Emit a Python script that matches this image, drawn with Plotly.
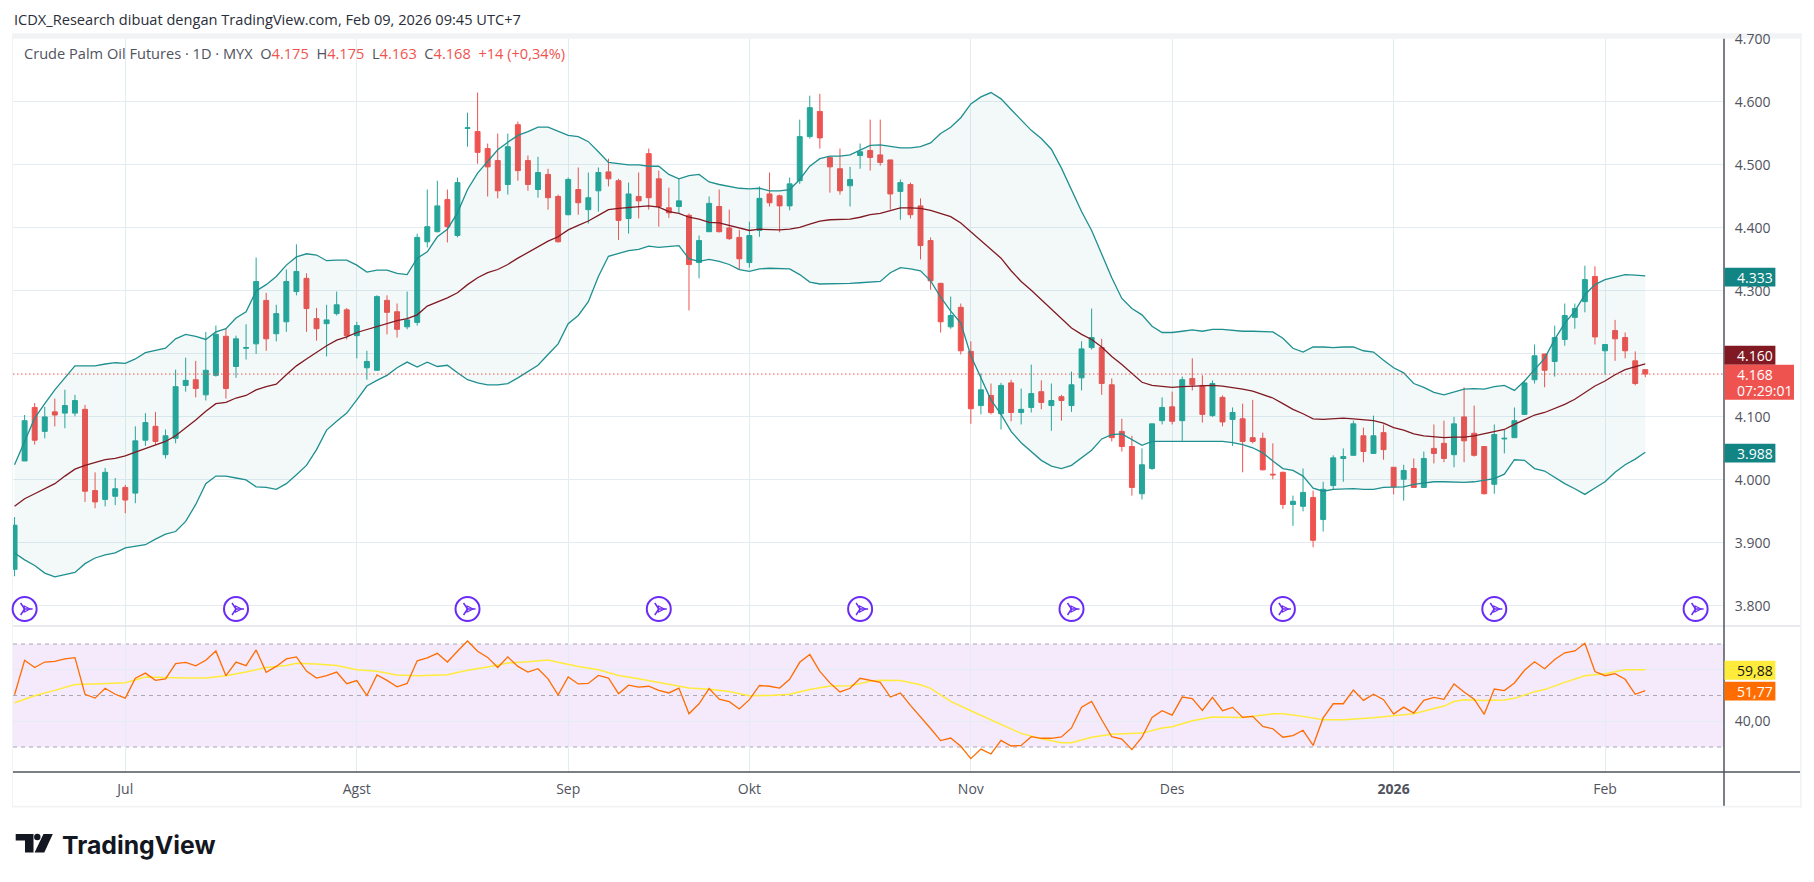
"""Crude Palm Oil Futures daily chart with Bollinger bands and RSI."""
import plotly.graph_objects as go
from plotly.subplots import make_subplots

WIDTH, HEIGHT = 1814, 882
PAGE_MARGIN = 8  # the page body keeps its default margin around the plot
LEFT, RIGHT, TOP, BOTTOM = 13, 1724.3, 39.3, 772.3
FONT = "Open Sans"
UP, DOWN = "#26a69a", "#ef5350"
TEAL, MAROON = "#138484", "#801922"
GRID = "#e3ecf1"
TEXT = "#50535e"
ICON = "#6a2cf5"

# one entry per trading day, left to right
opens = [
    3858, 4030, 4115, 4077, 4108, 4106, 4106, 4112, 3983, 3969,
    3974, 3988, 3979, 4063, 4085, 4040, 4066, 4150, 4159, 4135,
    4166, 4228, 4180, 4209, 4216, 4285, 4232, 4251, 4299, 4320,
    4256, 4248, 4264, 4270, 4229, 4178, 4174, 4285, 4267, 4243,
    4250, 4378, 4394, 4445, 4388, 4558, 4553, 4526, 4507, 4469,
    4564, 4507, 4461, 4485, 4450, 4421, 4461, 4429, 4459, 4489,
    4475, 4415, 4450, 4518, 4478, 4432, 4434, 4420, 4345, 4394,
    4434, 4400, 4385, 4345, 4396, 4454, 4451, 4435, 4475, 4545,
    4585, 4512, 4494, 4467, 4515, 4523, 4516, 4508, 4458, 4469,
    4435, 4380, 4312, 4243, 4274, 4204, 4118, 4134, 4105, 4154,
    4107, 4115, 4140, 4118, 4132, 4118, 4162, 4210, 4210, 4151,
    4077, 4053, 3978, 4018, 4094, 4116, 4094, 4161, 4150, 4102,
    4131, 4096, 4097, 4067, 4066, 4009, 4012, 3961, 3958, 3972,
    3937, 3991, 4034, 4039, 4070, 4042, 4075, 4020, 4001, 4018,
    3988, 4050, 4058, 4040, 4100, 4074, 4053, 3993, 4065, 4067,
    4104, 4159, 4200, 4188, 4223, 4258, 4283, 4323, 4205, 4237,
    4226, 4189, 4175,
]
highs = [
    3941, 4103, 4122, 4116, 4129, 4143, 4135, 4119, 4012, 4019,
    4003, 3992, 4085, 4106, 4108, 4080, 4175, 4194, 4189, 4235,
    4245, 4240, 4229, 4247, 4353, 4297, 4278, 4334, 4374, 4328,
    4273, 4278, 4299, 4273, 4251, 4205, 4293, 4293, 4280, 4299,
    4391, 4461, 4475, 4461, 4480, 4583, 4615, 4534, 4550, 4550,
    4569, 4515, 4513, 4494, 4453, 4480, 4496, 4488, 4496, 4510,
    4478, 4472, 4488, 4526, 4491, 4464, 4478, 4423, 4388, 4450,
    4461, 4429, 4397, 4410, 4466, 4488, 4453, 4480, 4572, 4610,
    4613, 4512, 4526, 4497, 4534, 4572, 4572, 4508, 4477, 4472,
    4447, 4385, 4313, 4291, 4280, 4220, 4169, 4153, 4154, 4159,
    4145, 4183, 4158, 4153, 4135, 4172, 4220, 4272, 4224, 4161,
    4097, 4070, 4050, 4089, 4131, 4140, 4164, 4193, 4166, 4158,
    4134, 4115, 4121, 4127, 4075, 4058, 4013, 3975, 4018, 3983,
    3997, 4039, 4050, 4094, 4083, 4102, 4088, 4020, 4024, 4034,
    4045, 4088, 4094, 4100, 4147, 4118, 4053, 4088, 4080, 4115,
    4158, 4215, 4200, 4245, 4280, 4280, 4340, 4339, 4215, 4254,
    4234, 4204, 4175,
]
lows = [
    3847, 4030, 4056, 4066, 4085, 4082, 4101, 3965, 3955, 3958,
    3960, 3947, 3963, 4054, 4056, 4034, 4058, 4140, 4131, 4126,
    4164, 4129, 4162, 4191, 4200, 4205, 4220, 4235, 4293, 4235,
    4221, 4196, 4261, 4223, 4193, 4159, 4174, 4231, 4226, 4239,
    4245, 4369, 4393, 4377, 4385, 4529, 4502, 4450, 4447, 4453,
    4475, 4459, 4448, 4429, 4377, 4420, 4421, 4407, 4426, 4466,
    4381, 4391, 4415, 4429, 4402, 4416, 4424, 4269, 4320, 4394,
    4393, 4381, 4334, 4337, 4386, 4434, 4393, 4428, 4470, 4542,
    4526, 4456, 4453, 4434, 4494, 4491, 4499, 4429, 4413, 4415,
    4350, 4302, 4234, 4240, 4199, 4089, 4104, 4104, 4080, 4093,
    4088, 4107, 4112, 4078, 4094, 4108, 4142, 4207, 4135, 4061,
    4045, 3975, 3969, 4016, 4088, 4088, 4062, 4142, 4091, 4100,
    4085, 4054, 4012, 4058, 4015, 4001, 3954, 3927, 3950, 3893,
    3918, 3985, 3997, 4039, 4028, 4042, 4032, 3977, 3967, 3988,
    3988, 4026, 4028, 4020, 4028, 4037, 3977, 3978, 4042, 4067,
    4104, 4153, 4147, 4164, 4213, 4240, 4266, 4215, 4167, 4189,
    4193, 4150, 4163,
]
closes = [
    3928, 4094, 4063, 4100, 4103, 4118, 4126, 3982, 3965, 4012,
    3986, 3968, 4062, 4091, 4061, 4070, 4148, 4158, 4145, 4174,
    4231, 4145, 4224, 4210, 4315, 4224, 4264, 4315, 4331, 4272,
    4240, 4254, 4278, 4229, 4245, 4188, 4291, 4266, 4239, 4254,
    4385, 4402, 4435, 4402, 4472, 4559, 4520, 4497, 4459, 4529,
    4491, 4469, 4488, 4448, 4378, 4477, 4440, 4448, 4488, 4478,
    4412, 4454, 4443, 4448, 4434, 4424, 4443, 4342, 4380, 4439,
    4394, 4383, 4351, 4388, 4447, 4440, 4435, 4470, 4545, 4591,
    4543, 4497, 4459, 4477, 4521, 4512, 4504, 4454, 4472, 4421,
    4372, 4316, 4251, 4261, 4205, 4113, 4143, 4107, 4150, 4107,
    4112, 4137, 4123, 4126, 4126, 4151, 4208, 4226, 4153, 4067,
    4053, 3988, 4024, 4089, 4115, 4093, 4159, 4151, 4104, 4153,
    4092, 4107, 4061, 4061, 4016, 4008, 3961, 3966, 3980, 3904,
    3985, 4035, 4037, 4089, 4045, 4070, 4048, 3989, 4015, 3988,
    4034, 4042, 4034, 4089, 4062, 4039, 3978, 4072, 4066, 4094,
    4154, 4197, 4174, 4226, 4261, 4272, 4318, 4227, 4215, 4224,
    4205, 4153, 4168,
]
bb_upper = [
    4024, 4062, 4098, 4121, 4143, 4162, 4181, 4181, 4181, 4184,
    4186, 4185, 4192, 4202, 4206, 4209, 4224, 4231, 4228, 4223,
    4235, 4240, 4257, 4267, 4300, 4310, 4323, 4341, 4354, 4359,
    4357, 4348, 4349, 4349, 4341, 4330, 4333, 4333, 4328, 4326,
    4352, 4362, 4386, 4398, 4424, 4461, 4487, 4506, 4524, 4536,
    4547, 4553, 4560, 4560, 4554, 4547, 4545, 4537, 4521, 4504,
    4502, 4500, 4500, 4498, 4498, 4485, 4478, 4483, 4485, 4473,
    4469, 4466, 4463, 4462, 4463, 4459, 4459, 4461, 4477, 4498,
    4510, 4514, 4514, 4516, 4524, 4531, 4532, 4529, 4527, 4527,
    4529, 4535, 4550, 4560, 4575, 4597, 4608, 4615, 4605, 4588,
    4571, 4555, 4542, 4525, 4495, 4461, 4426, 4396, 4358, 4321,
    4288, 4272, 4262, 4244, 4234, 4234, 4236, 4238, 4236, 4239,
    4239, 4237, 4236, 4236, 4236, 4235, 4225, 4209, 4203, 4211,
    4211, 4210, 4211, 4211, 4205, 4203, 4190, 4178, 4170, 4153,
    4147, 4139, 4135, 4140, 4144, 4145, 4144, 4148, 4150, 4142,
    4157, 4175, 4193, 4223, 4249, 4268, 4294, 4310, 4318, 4322,
    4326, 4325, 4324,
]
bb_mid = [
    3958, 3970, 3978, 3986, 3994, 4006, 4017, 4023, 4027, 4032,
    4034, 4038, 4044, 4050, 4056, 4061, 4070, 4082, 4095, 4109,
    4121, 4123, 4130, 4134, 4143, 4148, 4152, 4167, 4181, 4192,
    4203, 4213, 4222, 4227, 4234, 4239, 4244, 4248, 4253, 4256,
    4262, 4276, 4282, 4289, 4297, 4310, 4321, 4329, 4334, 4342,
    4352, 4361, 4370, 4379, 4386, 4397, 4404, 4411, 4420, 4429,
    4431, 4432, 4433, 4435, 4433, 4426, 4423, 4417, 4414, 4409,
    4408, 4404, 4399, 4396, 4398, 4397, 4397, 4398, 4401, 4406,
    4411, 4413, 4413, 4414, 4417, 4421, 4423, 4428, 4432, 4432,
    4431, 4428, 4423, 4418, 4408, 4394, 4381, 4367, 4352, 4332,
    4315, 4301, 4286, 4272, 4256, 4241, 4231, 4223, 4211, 4196,
    4183, 4169, 4155, 4150, 4148, 4147, 4148, 4149, 4149, 4150,
    4149, 4147, 4144, 4141, 4135, 4130, 4121, 4112, 4105, 4097,
    4096, 4097, 4098, 4097, 4095, 4094, 4090, 4083, 4079, 4073,
    4070, 4068, 4067, 4068, 4068, 4070, 4073, 4077, 4080, 4088,
    4096, 4103, 4107, 4113, 4120, 4128, 4138, 4149, 4157, 4167,
    4175, 4179, 4184,
]
bb_lower = [
    3884, 3873, 3864, 3852, 3846, 3849, 3853, 3867, 3876, 3881,
    3884, 3892, 3895, 3897, 3906, 3914, 3918, 3934, 3961, 3994,
    4006, 4006, 4003, 4000, 3989, 3988, 3985, 3994, 4008, 4023,
    4048, 4079, 4093, 4106, 4127, 4149, 4158, 4166, 4178, 4187,
    4179, 4187, 4180, 4182, 4170, 4159, 4154, 4151, 4151, 4153,
    4162, 4172, 4182, 4199, 4216, 4248, 4261, 4283, 4323, 4355,
    4359, 4364, 4366, 4371, 4369, 4371, 4372, 4351, 4347, 4350,
    4347, 4342, 4334, 4331, 4335, 4336, 4336, 4335, 4326, 4314,
    4311, 4311, 4312, 4312, 4313, 4314, 4315, 4329, 4337, 4335,
    4332, 4316, 4290, 4268, 4249, 4197, 4162, 4127, 4104, 4077,
    4059, 4045, 4031, 4022, 4018, 4023, 4035, 4047, 4065, 4072,
    4073, 4064, 4055, 4061, 4061, 4060, 4060, 4061, 4060, 4061,
    4061, 4059, 4056, 4051, 4043, 4030, 4018, 4015, 4006, 3987,
    3982, 3985, 3986, 3986, 3985, 3985, 3988, 3989, 3989, 3993,
    3995, 3997, 3997, 3996, 3996, 3997, 3999, 4002, 4009, 4032,
    4031, 4018, 4014, 4004, 3994, 3986, 3977, 3987, 3997, 4012,
    4024, 4033, 4044,
]
rsi = [
    50.3, 63.7, 60.9, 63.0, 63.3, 64.2, 64.7, 50.5, 49.0, 52.8,
    50.5, 49.0, 56.7, 58.7, 55.9, 56.5, 62.4, 62.9, 61.5, 63.7,
    67.3, 57.7, 63.0, 61.6, 67.7, 59.0, 61.3, 64.2, 65.0, 59.5,
    56.8, 57.7, 59.1, 54.6, 55.8, 50.0, 58.0, 55.9, 53.4, 54.7,
    63.5, 64.6, 66.4, 63.0, 67.2, 71.2, 67.2, 64.8, 60.9, 65.0,
    61.3, 59.1, 60.4, 56.5, 50.2, 57.2, 54.5, 54.7, 57.8, 56.8,
    50.7, 54.0, 53.3, 53.6, 52.0, 51.0, 52.9, 42.9, 46.8, 52.7,
    48.6, 47.6, 44.8, 48.4, 53.9, 53.6, 52.9, 56.3, 62.9, 65.9,
    59.4, 54.9, 51.4, 52.8, 56.7, 55.9, 55.1, 49.4, 51.0, 46.2,
    41.9, 37.2, 32.5, 33.5, 30.3, 25.5, 29.2, 27.3, 32.6, 30.4,
    30.6, 34.0, 33.4, 33.4, 33.9, 37.4, 45.5, 47.7, 40.6, 34.0,
    33.1, 29.0, 33.8, 41.5, 44.1, 42.4, 49.4, 48.8, 44.2, 49.3,
    44.1, 45.4, 41.5, 41.9, 38.0, 37.1, 33.8, 34.4, 36.5, 30.6,
    41.3, 46.8, 46.8, 52.1, 48.1, 50.5, 48.4, 42.8, 45.5, 43.2,
    48.1, 49.3, 48.5, 54.5, 51.4, 48.6, 42.7, 52.5, 51.9, 54.9,
    59.8, 63.1, 60.4, 64.0, 66.6, 67.3, 70.3, 59.3, 57.7, 58.5,
    56.3, 50.5, 51.9,
]
# the RSI average is smooth, so it is read only at the days where it bends
rsi_ma_days = [
    0, 2, 4, 6, 8, 10, 11, 13, 15, 17, 19, 21, 23, 25, 27, 28, 30, 32, 34, 36,
    38, 40, 43, 45, 47, 49, 51, 53, 54, 56, 58, 60, 62, 64, 66, 67, 69, 71, 73,
    75, 77, 79, 81, 83, 85, 86, 88, 90, 91, 93, 95, 98, 100, 102, 104, 105, 107,
    109, 111, 112, 114, 115, 117, 119, 122, 125, 126, 128, 130, 132, 135, 137,
    139, 142, 143, 144, 146, 148, 149, 151, 152, 154, 156, 158, 160, 162,
]
rsi_ma = [
    47.2, 49.9, 52.0, 54.3, 54.5, 54.7, 55.0, 57.2, 56.9, 56.8, 56.8, 57.7, 59.1,
    60.9, 61.7, 62.5, 62.2, 61.7, 60.0, 59.4, 58.0, 57.7, 58.1, 59.8, 61.1, 62.6,
    63.1, 63.8, 62.9, 61.3, 60.0, 57.8, 56.5, 55.1, 53.8, 52.9, 52.4, 51.6, 49.9,
    50.0, 50.5, 52.3, 53.7, 53.8, 55.5, 55.9, 55.8, 54.2, 52.8, 47.7, 44.1, 38.7,
    35.3, 33.2, 31.7, 31.7, 33.8, 35.0, 35.4, 35.4, 37.4, 37.9, 40.2, 41.7, 41.5,
    42.9, 42.9, 41.9, 40.6, 40.6, 41.4, 42.2, 42.9, 45.9, 47.7, 48.4, 48.1, 48.3,
    48.9, 51.5, 52.3, 55.1, 57.7, 58.5, 60.0, 60.0,
]
days = list(range(len(closes)))
month_days = [11, 34, 55, 73, 95, 115, 137, 158]
month_labels = ["Jul", "Agst", "Sep", "Okt", "Nov", "Des", "<b>2026</b>", "Feb"]
price_ticks = [3800, 3900, 4000, 4100, 4200, 4300, 4400, 4500, 4600, 4700]
# 4.200 sits behind the 4.160 value label in the reference
price_labels = ["3.800", "3.900", "4.000", "4.100", "", "4.300", "4.400", "4.500", "4.600", "4.700"]
expiry_days = [1, 22, 45, 64, 84, 105, 126, 147, 167]
expiry_level = 3795


def px(x):
    # paper coordinates run over the plot area, not the whole page
    return (x - LEFT) / (RIGHT - LEFT)


def py(y):
    return (BOTTOM - y) / (BOTTOM - TOP)


fig = make_subplots(rows=2, cols=1, shared_xaxes=True, vertical_spacing=0, row_heights=[587, 146])

# ── Bollinger bands ──────────────────────────────────────────────────────
fig.add_trace(go.Scatter(x=days, y=bb_upper, mode="lines", line=dict(color="#1f8f8f", width=1.3)), row=1, col=1)
fig.add_trace(
    go.Scatter(x=days, y=bb_lower, mode="lines", line=dict(color="#1f8f8f", width=1.3),
               fill="tonexty", fillcolor="rgba(38,140,140,0.055)"),
    row=1, col=1,
)
fig.add_trace(go.Scatter(x=days, y=bb_mid, mode="lines", line=dict(color=MAROON, width=1.3)), row=1, col=1)

# ── Candles ──────────────────────────────────────────────────────────────
fig.add_trace(
    go.Candlestick(
        x=days, open=opens, high=highs, low=lows, close=closes, whiskerwidth=0,
        increasing=dict(line=dict(color=UP, width=1), fillcolor=UP),
        decreasing=dict(line=dict(color=DOWN, width=1), fillcolor=DOWN),
    ),
    row=1, col=1,
)

# ── Contract roll icons ──────────────────────────────────────────────────
levels = [expiry_level] * len(expiry_days)
fig.add_trace(
    go.Scatter(x=expiry_days, y=levels, mode="markers", cliponaxis=False,
               marker=dict(symbol="circle", size=24, color="white", line=dict(color=ICON, width=2))),
    row=1, col=1,
)
fig.add_trace(
    go.Scatter(x=expiry_days, y=levels, mode="markers", cliponaxis=False,
               marker=dict(symbol="y-right-open", size=10, color=ICON, line=dict(color=ICON, width=1.5))),
    row=1, col=1,
)
# arrow markers have their tip at the centre, so the head sits half a day ahead
fig.add_trace(
    go.Scatter(x=[d + 0.55 for d in expiry_days], y=levels, mode="markers", cliponaxis=False,
               marker=dict(symbol="arrow-right-open", size=6, color=ICON, line=dict(color=ICON, width=1.2))),
    row=1, col=1,
)

# ── RSI ──────────────────────────────────────────────────────────────────
fig.add_trace(go.Scatter(x=rsi_ma_days, y=rsi_ma, mode="lines", line=dict(color="#ffeb3b", width=1.5)), row=2, col=1)
fig.add_trace(go.Scatter(x=days, y=rsi, mode="lines", line=dict(color="#ff6d00", width=1.3)), row=2, col=1)
fig.add_hrect(y0=30, y1=70, fillcolor="rgba(155,39,230,0.1)", line_width=0, layer="below", row=2, col=1)
for level in [30, 50, 70]:
    fig.add_hline(y=level, line=dict(color="#a9a8b0", width=1, dash="4px,4px"), layer="below", row=2, col=1)

# last price line
fig.add_hline(y=closes[-1], line=dict(color=DOWN, width=1, dash="1.5px,2.5px"), row=1, col=1)

# ── Axes ─────────────────────────────────────────────────────────────────
axis_font = dict(family=FONT, size=14, color=TEXT)
fig.update_xaxes(range=[-0.154, 169.82], tickvals=month_days, ticktext=month_labels, showgrid=True, gridcolor=GRID,
                 gridwidth=1, zeroline=False, showline=False, rangeslider_visible=False, tickfont=axis_font,
                 ticks="", ticklabelstandoff=7)
fig.update_yaxes(side="right", showgrid=True, gridcolor=GRID, gridwidth=1, zeroline=False, showline=False,
                 tickfont=axis_font, ticks="outside", ticklen=7, tickcolor="rgba(0,0,0,0)")
fig.update_yaxes(range=[3768, 4700], tickvals=price_ticks, ticktext=price_labels, row=1, col=1)
fig.update_yaxes(range=[20.3, 77], tickvals=[40, 60], ticktext=["40,00", ""], row=2, col=1)

# ── Frame, separators, value labels ──────────────────────────────────────
shapes = []


def box(x0, y0, x1, y1, color, layer="above"):
    shapes.append(dict(type="rect", xref="paper", yref="paper", x0=px(x0), x1=px(x1), y0=py(y0), y1=py(y1),
                       fillcolor=color, line_width=0, layer=layer))


def rule(x0, y0, x1, y1, color, width=1):
    shapes.append(dict(type="line", xref="paper", yref="paper", x0=px(x0), x1=px(x1), y0=py(y0), y1=py(y1),
                       line=dict(color=color, width=width)))


frame = "#f2f3f5"
box(12, 33.5, 1802, 39, frame, layer="below")
box(12, 33.5, 13, 807.7, frame, layer="below")
box(1800.3, 33.5, 1802, 807.7, frame, layer="below")
box(12, 806, 1802, 807.7, frame, layer="below")
rule(13, 626.3, 1800.3, 626.3, "#e0e3eb", 1.5)
rule(13, 772.3, 1800.3, 772.3, TEXT, 1.5)
rule(1724.3, 39, 1724.3, 806, TEXT, 1.5)

# value labels on the scales: text, top, bottom, right edge, fill, ink
labels = [
    ("4.333", 268, 286.7, 1775.7, TEAL, "white"),
    ("4.160", 346, 365, 1775.7, MAROON, "white"),
    ("3.988", 444, 462.7, 1775.7, TEAL, "white"),
    ("59,88", 661, 680, 1775.7, "#ffeb3b", "#131722"),
    ("51,77", 682, 700.7, 1775.7, "#ff6d00", "white"),
]
notes = []


def note(text, x, y, size=14, color=TEXT, family=FONT, anchor="left"):
    notes.append(dict(text=text, xref="paper", yref="paper", x=px(x), y=py(y), xanchor=anchor, yanchor="middle",
                      showarrow=False, font=dict(family=family, size=size, color=color)))


for text, top, bottom, edge, fill, ink in labels:
    box(1724.8, top, edge, bottom, fill)
    note(text, 1735, (top + bottom) / 2, color=ink)
box(1724.8, 365, 1794.3, 400, DOWN)
note("4.168", 1735, 375, color="white")
note("07:29:01", 1735, 391, color="white")

note("ICDX_Research dibuat dengan TradingView.com, Feb 09, 2026 09:45 UTC+7", 12, 19.7, size=14.6, color="#2a2e39")
red = '<span style="color:%s">%%s</span>' % DOWN
note("Crude Palm Oil Futures · 1D · MYX\u00a0\u00a0O" + red % "4.175" + "\u00a0\u00a0H" + red % "4.175"
     + "\u00a0\u00a0L" + red % "4.163" + "\u00a0\u00a0C" + red % "4.168" + "\u00a0\u00a0" + red % "+14 (+0,34%)",
     22, 53.7, size=14.6)

# ── TradingView logo ─────────────────────────────────────────────────────
logo = "#131722"


def poly(points):
    path = "M" + " L".join(f"{px(x):.5f},{py(y):.5f}" for x, y in points) + " Z"
    shapes.append(dict(type="path", xref="paper", yref="paper", path=path, fillcolor=logo, line_width=0))


poly([(15.7, 834.3), (33.5, 834.3), (33.5, 852.7), (25, 852.7), (25, 840.9), (15.7, 840.9)])
poly([(43.5, 834.3), (52.8, 834.3), (44.3, 852.7), (34.6, 852.7)])
shapes.append(dict(type="circle", xref="paper", yref="paper", x0=px(34.1), x1=px(40.5), y0=py(840.5), y1=py(834.1),
                   fillcolor=logo, line_width=0))
note("<b>TradingView</b>", 60, 845.5, size=24.8, color=logo, family="Inter")

fig_w, fig_h = WIDTH - 2 * PAGE_MARGIN, HEIGHT - 2 * PAGE_MARGIN
fig.update_layout(
    width=fig_w, height=fig_h, showlegend=False, paper_bgcolor="white", plot_bgcolor="white",
    margin=dict(l=LEFT - PAGE_MARGIN, r=fig_w - (RIGHT - PAGE_MARGIN), t=TOP - PAGE_MARGIN,
                b=fig_h - (BOTTOM - PAGE_MARGIN), autoexpand=False),
    boxgap=0.3, hovermode=False, shapes=list(fig.layout.shapes) + shapes, annotations=notes,
)

fig.write_html("out.html")
